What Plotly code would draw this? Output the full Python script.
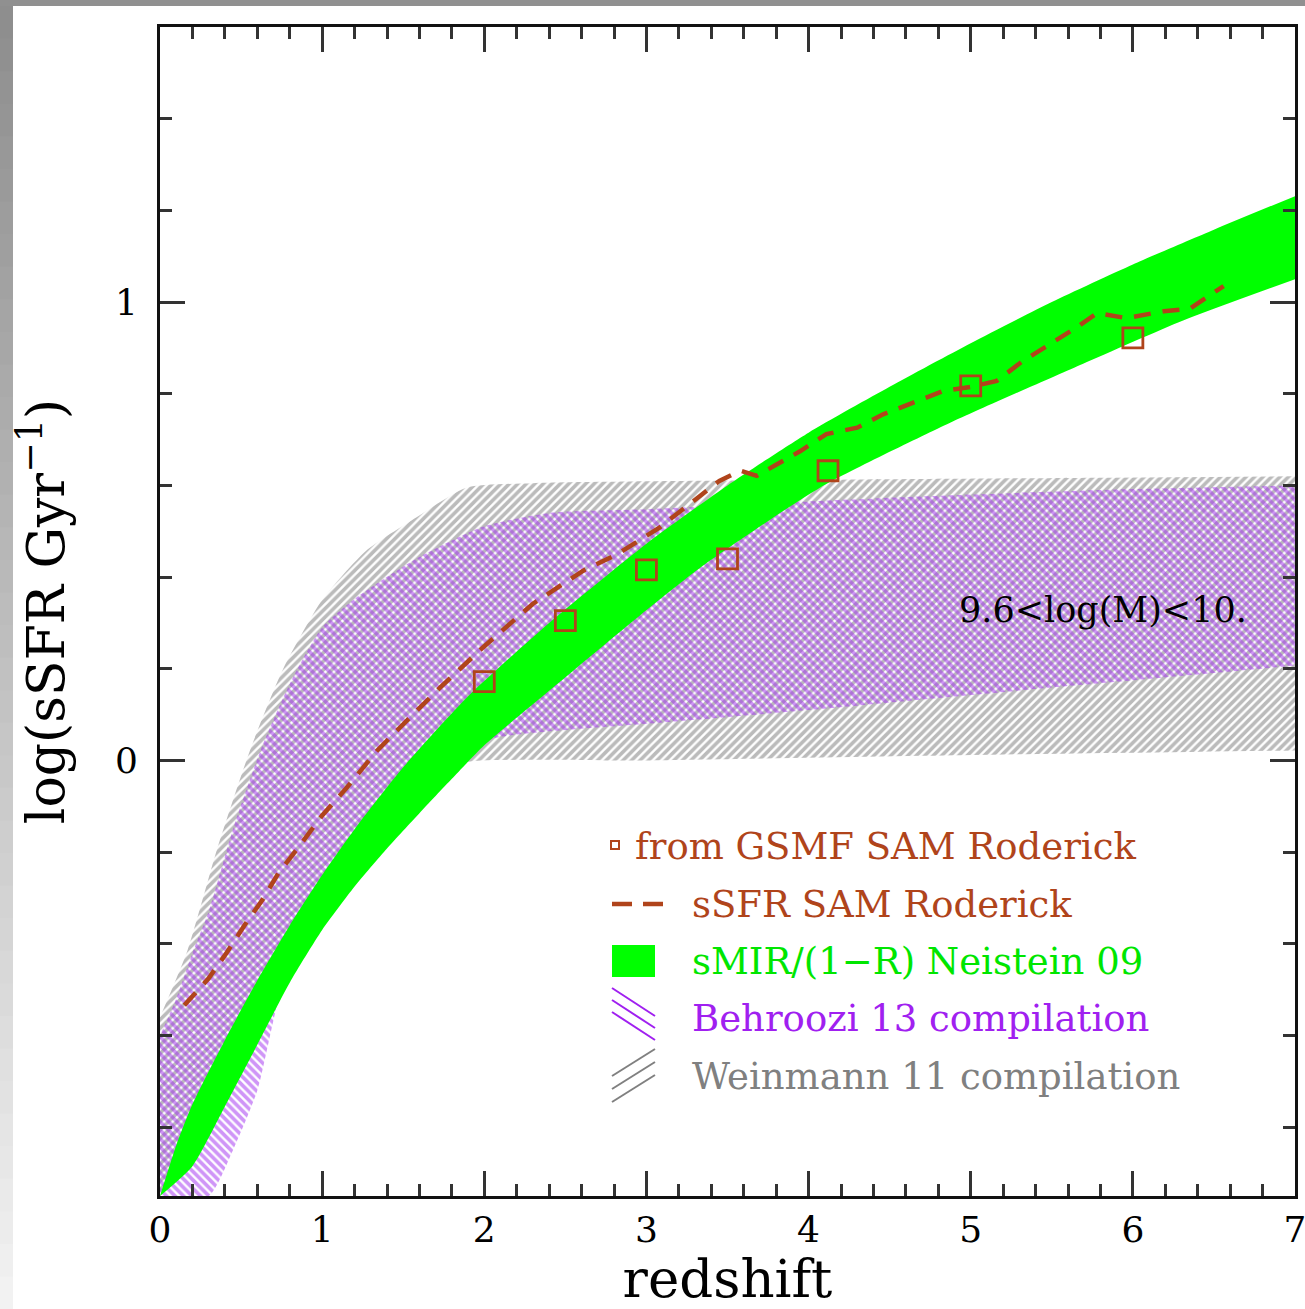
import plotly.graph_objects as go

# ---------------- data ----------------
# Weinmann 11 compilation (grey hatched band)
wei_z_up = [0.0, 0.17, 0.35, 0.555, 0.76, 1.0, 1.27, 1.58, 1.89, 2.3, 4.0, 5.8, 7.0]
wei_up   = [-0.56, -0.414, -0.196, 0.022, 0.20, 0.35, 0.457, 0.53, 0.595, 0.605, 0.612, 0.617, 0.62]
wei_z_lo = [0.0, 0.25, 0.5, 0.8, 1.1, 1.4, 1.7, 1.87, 3.0, 5.0, 7.0]
wei_lo   = [-0.95, -0.80, -0.64, -0.44, -0.26, -0.13, -0.04, -0.005, 0.0, 0.012, 0.022]

# Behroozi 13 compilation (purple hatched band)
beh_z_up = [0.0, 0.1, 0.2, 0.3, 0.45, 0.62, 0.8, 1.0, 1.21, 1.58, 1.99, 2.4, 3.0, 4.0, 5.0, 6.0, 7.0]
beh_up   = [-0.60, -0.52, -0.42, -0.33, -0.15, 0.022, 0.167, 0.29, 0.355, 0.44, 0.51, 0.54, 0.548, 0.565, 0.58, 0.592, 0.60]
beh_z_lo = [0.0, 0.30, 0.45, 0.6, 0.77, 1.1, 1.4, 1.7, 2.08, 3.0, 4.0, 5.0, 6.0, 7.0]
beh_lo   = [-0.95, -0.95, -0.85, -0.72, -0.47, -0.24, -0.10, 0.0, 0.05, 0.08, 0.11, 0.143, 0.175, 0.207]

# sMIR/(1-R) Neistein 09 (green band)
nei_z_up = [0.0, 0.1, 0.2, 0.4, 0.6, 0.8, 1.0, 1.2, 1.5, 1.9, 2.4, 3.0, 3.5, 4.0, 4.5, 5.0, 5.5, 6.0, 6.5, 7.0]
nei_up   = [-0.95, -0.84, -0.75, -0.61, -0.48, -0.36, -0.25, -0.15, -0.015, 0.14, 0.30, 0.473, 0.60,
            0.715, 0.815, 0.91, 1.0, 1.082, 1.158, 1.231]
nei_z_lo = [0.0, 0.2, 0.4, 0.6, 0.8, 1.0, 1.2, 1.4, 1.6, 1.8, 2.0, 2.4, 2.92, 3.33, 4.07, 4.87, 5.69, 6.31, 7.0]
nei_lo   = [-0.95, -0.885, -0.755, -0.62, -0.485, -0.37, -0.275, -0.192, -0.115, -0.04, 0.033, 0.152,
            0.305, 0.42, 0.595, 0.736, 0.865, 0.96, 1.05]

# sSFR SAM Roderick (dashed curve)
sam_z = [0.15, 0.30, 0.41, 0.52, 0.63, 0.73, 0.84, 1.0, 1.15, 1.34, 1.48, 1.73, 1.99, 2.3, 2.61,
         2.82, 3.08, 3.27, 3.45, 3.58, 3.68, 3.8, 3.95, 4.11, 4.3, 4.46, 4.65, 4.83, 5.0, 5.16,
         5.32, 5.49, 5.65, 5.78, 5.96, 6.19, 6.35, 6.56]
sam_v = [-0.534, -0.475, -0.42, -0.36, -0.305, -0.246, -0.196, -0.12, -0.06, 0.022, 0.072, 0.16,
         0.246, 0.342, 0.414, 0.45, 0.508, 0.56, 0.61, 0.632, 0.621, 0.645, 0.675, 0.712, 0.726,
         0.755, 0.78, 0.806, 0.815, 0.828, 0.871, 0.908, 0.944, 0.976, 0.965, 0.98, 0.985, 1.035]

# from GSMF SAM Roderick (open squares)
gsmf_z = [2.0, 2.5, 3.0, 3.5, 4.12, 5.0, 6.0]
gsmf_v = [0.172, 0.305, 0.416, 0.44, 0.632, 0.817, 0.922]

legend_labels = ["from GSMF SAM Roderick", "sSFR SAM Roderick", "sMIR/(1\u2212R) Neistein 09",
                 "Behroozi 13 compilation", "Weinmann 11 compilation"]
mass_label = "9.6<log(M)<10."

BROWN = "#b0441b"
GREEN = "#00ff00"
PURPLE = "#a020f0"
GREY = "#808080"
SERIF = "DejaVu Serif"

# plot-area geometry (pixels)
L, T, W, H = 160, 27, 1135, 1169
FIG_W, FIG_H = 1305, 1309


def px(x):
    return (x - L) / W


def py(y):
    return (T + H - y) / H


fig = go.Figure()


def add_band(zl, vl, zu, vu, pattern=None, color=None):
    """Lower edge first, then the upper edge filled down to it."""
    fig.add_trace(go.Scatter(
        x=zl, y=vl, mode="lines", line=dict(width=0, shape="spline", smoothing=0.6),
        hoverinfo="skip", showlegend=False))
    kw = dict(fillpattern=pattern) if pattern else {}
    fig.add_trace(go.Scatter(
        x=zu, y=vu, mode="lines", line=dict(width=0, shape="spline", smoothing=0.6),
        fill="tonexty", fillcolor=color, hoverinfo="skip", showlegend=False, **kw))


add_band(wei_z_lo, wei_lo, wei_z_up, wei_up, color="rgba(0,0,0,0)",
         pattern=dict(shape="/", size=6, solidity=0.6, fgcolor="#777777",
                      bgcolor="rgba(0,0,0,0)"))
add_band(beh_z_lo, beh_lo, beh_z_up, beh_up, color="rgba(0,0,0,0)",
         pattern=dict(shape="\\", size=6, solidity=0.62, fgcolor="#9f2bef",
                      bgcolor="rgba(0,0,0,0)"))
add_band(nei_z_lo, nei_lo, nei_z_up, nei_up, color=GREEN)

fig.add_trace(go.Scatter(
    x=sam_z, y=sam_v, mode="lines",
    line=dict(color=BROWN, width=4.5, dash="17px,12px"),
    hoverinfo="skip", showlegend=False))

fig.add_trace(go.Scatter(
    x=gsmf_z, y=gsmf_v, mode="markers",
    marker=dict(symbol="square-open", size=20, color=BROWN, line=dict(width=2.8, color=BROWN)),
    hoverinfo="skip", showlegend=False))

# ---------------- legend (drawn by hand) ----------------
shapes = []
annotations = []
rows_y = [847, 904, 961, 1018, 1076]
text_colors = [BROWN, BROWN, "#00e600", PURPLE, GREY]
text_x = [633, 690, 690, 690, 690]
for lab, yy, col, tx in zip(legend_labels, rows_y, text_colors, text_x):
    annotations.append(dict(
        x=px(tx), y=py(yy), xref="paper", yref="paper", text=lab, showarrow=False,
        xanchor="left", yanchor="middle", font=dict(family=SERIF, size=37, color=col)))

# square symbol
shapes.append(dict(type="rect", xref="paper", yref="paper",
                   x0=px(611), x1=px(619), y0=py(849), y1=py(841),
                   line=dict(color=BROWN, width=2), fillcolor="rgba(0,0,0,0)"))
# dashed symbol
for a, b in [(612, 632), (643, 663)]:
    shapes.append(dict(type="line", xref="paper", yref="paper",
                       x0=px(a), x1=px(b), y0=py(904), y1=py(904),
                       line=dict(color=BROWN, width=4.5)))
# green block
shapes.append(dict(type="rect", xref="paper", yref="paper",
                   x0=px(612), x1=px(655), y0=py(977), y1=py(945),
                   line=dict(width=0), fillcolor=GREEN))
# purple hatch symbol
for k in range(3):
    shapes.append(dict(type="line", xref="paper", yref="paper",
                       x0=px(612), x1=px(655), y0=py(988 + 12 * k), y1=py(1016 + 12 * k),
                       line=dict(color=PURPLE, width=2)))
# grey hatch symbol
for k in range(3):
    shapes.append(dict(type="line", xref="paper", yref="paper",
                       x0=px(612), x1=px(655), y0=py(1076 + 13 * k), y1=py(1049 + 13 * k),
                       line=dict(color=GREY, width=2)))

annotations.append(dict(
    x=px(957), y=py(610), xref="paper", yref="paper", text=mass_label, showarrow=False,
    xanchor="left", yanchor="middle", font=dict(family=SERIF, size=35, color="black")))

# grey window frame: top strip and shaded left strip
shapes.append(dict(type="rect", xref="paper", yref="paper", layer="above",
                   x0=px(0), x1=px(FIG_W), y0=py(0), y1=py(6),
                   line=dict(width=0), fillcolor="#909090"))
n = 40
for i in range(n):
    y0 = 6 + (FIG_H - 6) * i / n
    y1 = 6 + (FIG_H - 6) * (i + 1) / n
    t = i / (n - 1)
    c = int(0x8e + (0xf2 - 0x8e) * t)
    shapes.append(dict(type="rect", xref="paper", yref="paper", layer="above",
                       x0=px(0), x1=px(13), y0=py(y0), y1=py(y1 + 1),
                       line=dict(width=0), fillcolor=f"rgb({c},{c},{c})"))

axis_common = dict(
    showgrid=False, zeroline=False, showline=True, linecolor="#111111", linewidth=3,
    mirror="allticks", ticks="inside", ticklen=25, tickwidth=2.5, tickcolor="#333333",
    tickfont=dict(family=SERIF, size=36, color="black"), automargin=False,
    ticklabeloverflow="allow",
    minor=dict(ticks="inside", ticklen=12, tickwidth=2.5, tickcolor="#333333", dtick=0.2, showgrid=False),
)

fig.update_layout(
    width=FIG_W, height=FIG_H,
    margin=dict(l=L, r=FIG_W - L - W, t=T, b=FIG_H - T - H),
    paper_bgcolor="white", plot_bgcolor="white",
    showlegend=False,
    xaxis=dict(range=[0, 7], tick0=0, dtick=1, ticklabelstandoff=0,
               title=dict(text="redshift", font=dict(family=SERIF, size=53, color="black"), standoff=2),
               **axis_common),
    yaxis=dict(range=[-0.95, 1.6], tick0=0, dtick=1, ticklabelstandoff=12,
               title=dict(text="log(sSFR Gyr<sup>\u22121</sup>)", font=dict(family=SERIF, size=52, color="black"),
                          standoff=34),
               **axis_common),
    shapes=shapes,
    annotations=annotations,
)

fig.write_html("out.html")
